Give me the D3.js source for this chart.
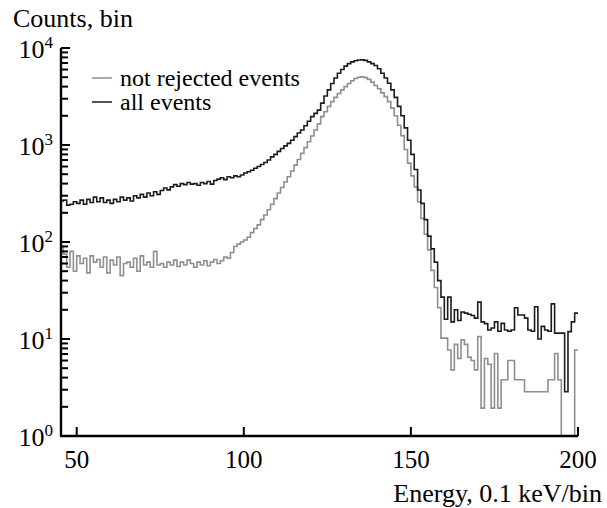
<!DOCTYPE html>
<html>
<head>
<meta charset="utf-8">
<script src="https://cdn.jsdelivr.net/npm/d3@7/dist/d3.min.js"></script>
<style>
  body { margin: 0; background: #fff; }
  svg { display: block; }
</style>
</head>
<body>
<div id="svg-container"></div>
<script>
// histogram bins are 1 unit wide, first bin starts at 45
var firstBin = 45

// all events, bins 45..199
var allEvents = [
  265, 270, 240, 245, 260, 250, 270, 245, 275, 255,
  290, 260, 285, 255, 270, 250, 275, 260, 290, 270,
  285, 265, 300, 285, 310, 290, 320, 300, 330, 310,
  340, 360, 345, 370, 390, 375, 400, 390, 410, 395,
  400, 385, 410, 400, 420, 395, 430, 445, 460, 440,
  470, 460, 480, 470, 490,
  515, 530, 550, 575, 600, 630, 660, 700, 755, 800,
  860, 920, 980, 1040, 1120, 1220, 1330, 1430, 1580, 1760,
  1960, 2120, 2290, 2700, 3200, 3700, 4300, 4900, 5490, 6000,
  6500, 6900, 7200, 7400, 7520, 7550, 7450, 7200, 6900, 6600,
  6100, 5500, 4900, 4330, 3700, 3100, 2500, 2000, 1500, 1120,
  800, 560, 344, 250, 170, 115, 85, 62, 40, 27,
  16, 27, 15, 20, 15.5, 19, 18.5, 18, 17.5, 16.4,
  24, 15, 14.4, 12.4, 13, 15, 12, 14.5, 12.4, 12,
  12.4, 21, 17.7, 17.7, 16.4, 12.4, 12, 21.5, 10, 13.5,
  12.4, 12, 23, 11.5, 11.5, 11.5, 2.86, 11.9, 15, 18.5
]

// not rejected events, bins 45..199 (empty bins drawn at 1)
var notRejected = [
  90, 75, 55, 80, 50, 72, 60, 68, 48, 72,
  62, 66, 55, 70, 48, 65, 58, 70, 45, 60,
  62, 55, 68, 50, 72, 58, 62, 55, 80, 58,
  60, 55, 62, 58, 65, 56, 62, 58, 65, 60,
  55, 62, 58, 64, 57, 62, 66, 60, 64, 70,
  68, 78, 90, 95, 100,
  105, 112, 125, 138, 150, 170, 190, 215, 245, 280,
  320, 365, 415, 470, 540, 620, 710, 820, 940, 1080,
  1240, 1430, 1650, 1960, 2200, 2500, 2800, 3100, 3400, 3700,
  4000, 4300, 4600, 4850, 5000, 5050, 4950, 4750, 4450, 4100,
  3800, 3450, 3150, 2800, 2400, 2000, 1600, 1250, 900, 650,
  480, 370, 260, 175, 120, 83, 51, 34, 21, 10.2,
  10.2, 7.7, 4.8, 8.8, 6.3, 9.8, 8.8, 6.5, 6, 4.8,
  10.6, 1.94, 6.3, 5.5, 1.94, 7.1, 1.94, 3.8, 3.8, 6,
  6, 3.8, 3.8, 3.8, 2.86, 2.86, 2.86, 2.86, 2.86, 2.86,
  2.86, 3.8, 3.8, 7.1, 3.8, 1, 1, 1, 1, 7.7
]

var xTicks = [50, 100, 150, 200]
var yDecades = [0, 1, 2, 3, 4]
var legendLabels = ['not rejected events', 'all events']
var xTitle = 'Energy, 0.1 keV/bin'
var yTitle = 'Counts, bin'

;(function () {
  var svgWidth = 607,
    svgHeight = 508
  var plot = { left: 61, right: 578, top: 48, bottom: 436 }
  var serif =
    "'Liberation Serif', 'Times New Roman', Times, Tinos, 'Noto Serif', 'DejaVu Serif', FreeSerif, serif"

  var svg = d3
    .select('#svg-container')
    .append('svg')
    .attr('width', svgWidth)
    .attr('height', svgHeight)
    .style('font-family', serif)

  // Scales
  var x = d3.scaleLinear().domain([45.3, 200]).range([plot.left, plot.right])
  var y = d3.scaleLog().domain([1, 1e4]).range([plot.bottom, plot.top])

  svg
    .append('defs')
    .append('clipPath')
    .attr('id', 'plot-clip')
    .append('rect')
    .attr('x', plot.left)
    .attr('y', plot.top - 5)
    .attr('width', plot.right - plot.left)
    .attr('height', plot.bottom - plot.top + 6)

  var step = d3
    .line()
    .x(d => x(d[0]))
    .y(d => y(d[1]))
    .curve(d3.curveStepAfter)

  function toPoints(values) {
    var pts = values.map((v, i) => [firstBin + i, v])
    pts.push([firstBin + values.length, values[values.length - 1]])
    return pts
  }

  var series = [
    { name: legendLabels[0], values: notRejected, color: '#8f8f8f' },
    { name: legendLabels[1], values: allEvents, color: '#1c1c1c' },
  ]

  svg
    .append('g')
    .attr('clip-path', 'url(#plot-clip)')
    .selectAll('path')
    .data(series)
    .enter()
    .append('path')
    .attr('fill', 'none')
    .attr('stroke', d => d.color)
    .attr('stroke-width', 1.6)
    .attr('d', d => step(toPoints(d.values)))

  // y axis: majors + minors on the inside
  var yMinor = []
  yDecades.slice(0, -1).forEach(k => {
    for (var m = 2; m <= 9; m++) yMinor.push(m * Math.pow(10, k))
  })

  var yAxis = svg.append('g').attr('class', 'y-axis')
  yAxis
    .append('line')
    .attr('x1', plot.left)
    .attr('x2', plot.left)
    .attr('y1', plot.top)
    .attr('y2', plot.bottom)
    .attr('stroke', '#000')
    .attr('stroke-width', 2.4)

  yAxis
    .selectAll('.major')
    .data(yDecades)
    .enter()
    .append('line')
    .attr('class', 'major')
    .attr('x1', plot.left)
    .attr('x2', plot.left + 9)
    .attr('y1', d => y(Math.pow(10, d)))
    .attr('y2', d => y(Math.pow(10, d)))
    .attr('stroke', '#000')
    .attr('stroke-width', 2)

  yAxis
    .selectAll('.minor')
    .data(yMinor)
    .enter()
    .append('line')
    .attr('class', 'minor')
    .attr('x1', plot.left)
    .attr('x2', plot.left + 7)
    .attr('y1', d => y(d))
    .attr('y2', d => y(d))
    .attr('stroke', '#000')
    .attr('stroke-width', 2)

  var yLabels = yAxis
    .selectAll('.ylab')
    .data(yDecades)
    .enter()
    .append('text')
    .attr('class', 'ylab')
    .attr('x', 53)
    .attr('y', d => y(Math.pow(10, d)) + 10)
    .attr('text-anchor', 'end')
    .style('font-family', serif)
    .style('font-size', '26px')
  yLabels.append('tspan').text('10')
  yLabels
    .append('tspan')
    .attr('dy', -10)
    .style('font-size', '17px')
    .text(d => d)

  // x axis
  var xAxis = svg.append('g').attr('class', 'x-axis')
  xAxis
    .append('line')
    .attr('x1', plot.left - 1)
    .attr('x2', plot.right)
    .attr('y1', plot.bottom)
    .attr('y2', plot.bottom)
    .attr('stroke', '#000')
    .attr('stroke-width', 2.4)

  xAxis
    .selectAll('.tick')
    .data(xTicks)
    .enter()
    .append('line')
    .attr('x1', d => x(d))
    .attr('x2', d => x(d))
    .attr('y1', plot.bottom)
    .attr('y2', plot.bottom - 9)
    .attr('stroke', '#000')
    .attr('stroke-width', 2)

  xAxis
    .selectAll('.xlab')
    .data(xTicks)
    .enter()
    .append('text')
    .attr('class', 'xlab')
    .attr('x', d => x(d))
    .attr('y', 468)
    .attr('text-anchor', 'middle')
    .style('font-family', serif)
    .style('font-size', '25px')
    .text(d => d)

  // titles
  svg
    .append('text')
    .attr('x', 13)
    .attr('y', 27)
    .style('font-family', serif)
    .style('font-size', '26px')
    .text(yTitle)

  svg
    .append('text')
    .attr('x', 602)
    .attr('y', 502)
    .attr('text-anchor', 'end')
    .style('font-family', serif)
    .style('font-size', '26px')
    .text(xTitle)

  // legend
  var legend = svg
    .append('g')
    .selectAll('g')
    .data(series)
    .enter()
    .append('g')
    .attr('transform', (d, i) => `translate(92, ${78 + i * 24})`)

  legend
    .append('line')
    .attr('x1', 0)
    .attr('x2', 20)
    .attr('stroke', d => d.color)
    .attr('stroke-width', 1.5)

  legend
    .append('text')
    .attr('x', 28)
    .attr('y', 8)
    .style('font-family', serif)
    .style('font-size', '24px')
    .text(d => d.name)
})()
</script>
</body>
</html>
